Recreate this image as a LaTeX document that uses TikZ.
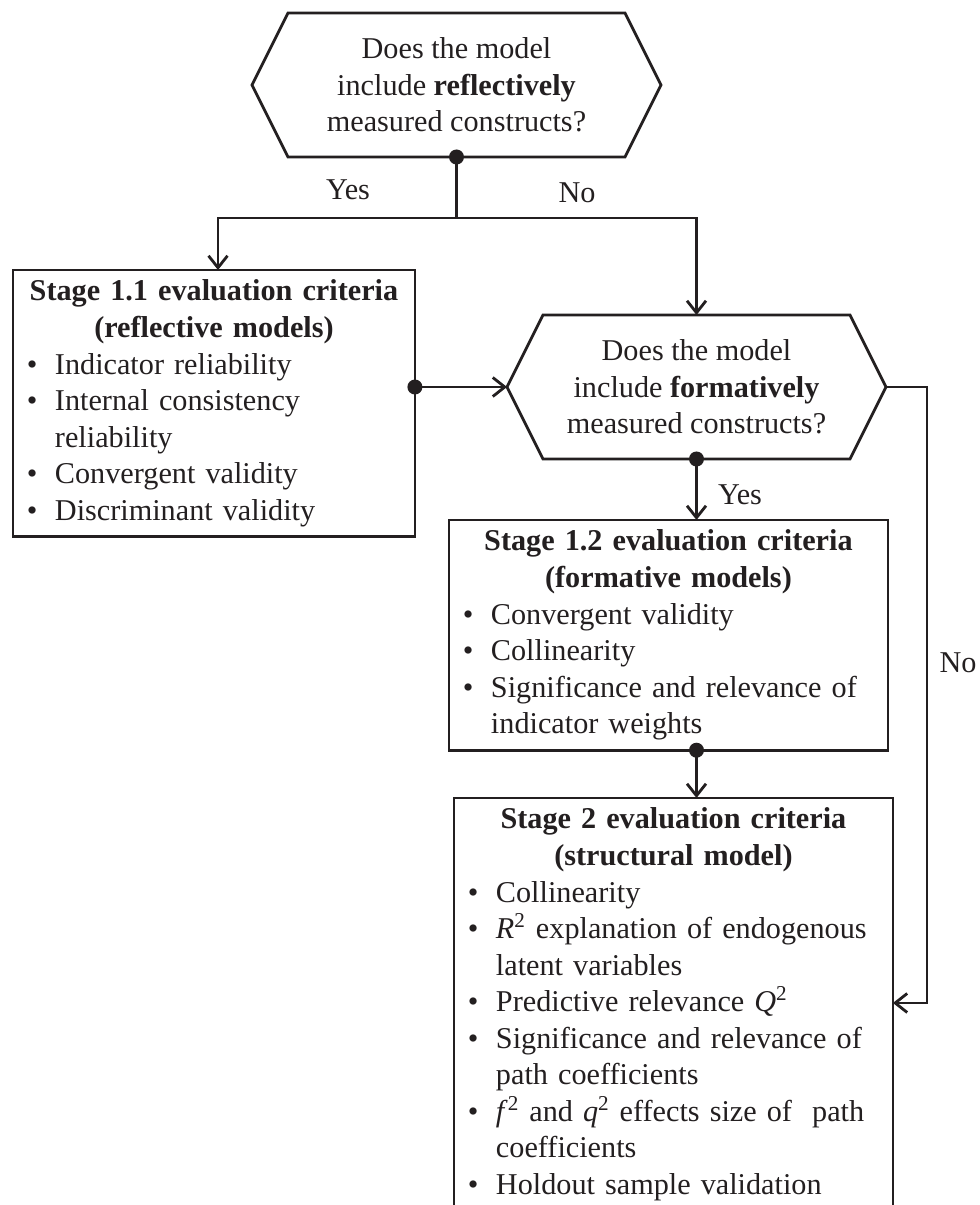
\documentclass[tikz,border=0pt]{standalone}
\usepackage{fontspec}
\setmainfont{Liberation Serif}
\usetikzlibrary{arrows.meta}
\definecolor{ink}{HTML}{231F20}
\newcommand{\crit}[1]{\par\hangindent=0.56cm\hangafter=1\noindent\makebox[0.56cm][l]{\textbullet}#1\par}
\newcommand{\hexa}[1]{\draw (#1.north west) -- (#1.north east) -- ([xshift=0.72cm]#1.east) -- (#1.south east) -- (#1.south west) -- ([xshift=-0.72cm]#1.west) -- cycle;}

\begin{document}
\begin{tikzpicture}[x=0.02cm,y=-0.02cm,>={Straight Barb[length=2.4mm,width=3.8mm]},
  line width=1.6pt,ink,
  every node/.style={font=\fontsize{17.2}{20.8}\selectfont,text=ink},
  hex node/.style={align=center,minimum height=2.88cm,inner sep=0pt,outer sep=0pt},
  crit node/.style={rectangle,draw=ink,align=left,inner xsep=0.28cm,inner ysep=0.2cm,outer sep=0pt,anchor=north west},
  lab node/.style={inner sep=0pt}]

  \useasboundingbox (0,0) rectangle (980,1205);
  \clip (0,0) rectangle (980,1205);

  % questions
  \node[hex node,minimum width=6.74cm] (q1) at (456.5,85) {Does the model\\include \textbf{reflectively}\\measured constructs?};
  \node[hex node,minimum width=6.14cm] (q2) at (696.5,387) {Does the model\\include \textbf{formatively}\\measured constructs?};
  \hexa{q1}
  \hexa{q2}

  % criteria
  \node[crit node,text width=7.48cm,minimum height=5.3cm] (s11) at (13,270) {%
    {\centering\bfseries Stage 1.1 evaluation criteria\\(reflective models)\par}
    \crit{Indicator reliability}
    \crit{Internal consistency\newline reliability}
    \crit{Convergent validity}
    \crit{Discriminant validity}};
  \node[crit node,text width=8.22cm,minimum height=4.54cm] (s12) at (449,520) {%
    {\centering\bfseries Stage 1.2 evaluation criteria\\(formative models)\par}
    \crit{Convergent validity}
    \crit{Collinearity}
    \crit{Significance and relevance of\newline indicator weights}};
  \node[crit node,text width=8.22cm] (s2) at (454,798) {%
    {\centering\bfseries Stage 2 evaluation criteria\\(structural model)\par}
    \crit{Collinearity}
    \crit{\textit{R}\textsuperscript{2} explanation of endogenous\newline latent variables}
    \crit{Predictive relevance \textit{Q}\textsuperscript{2}}
    \crit{Significance and relevance of\newline path coefficients}
    \crit{\textit{f}\textsuperscript{2} and \textit{q}\textsuperscript{2} effects size of~ path\newline coefficients}
    \crit{Holdout sample validation}};

  % labels
  \node[lab node] (yes1) at (348,190) {Yes};
  \node[lab node] (no1) at (577,193) {No};
  \node[lab node] (yes2) at (740,495) {Yes};
  \node[lab node] (no2) at (958,663) {No};

  \coordinate (split) at (456.5,218);
  \coordinate (s11 in) at (218,270);
  \coordinate (s11 out) at (s11.east |- q2.west);
  \coordinate (q2 tip w) at ([xshift=-0.72cm]q2.west);
  \coordinate (q2 tip e) at ([xshift=0.72cm]q2.east);
  \coordinate (s12 out) at (s12.south -| q2.south);
  \coordinate (s2 in) at ([yshift=-4.1cm]s2.north east);

  \fill (q1.south) circle (0.15cm);
  \draw (q1.south) -- (split);
  \draw[->] (split) -| (s11 in);
  \draw[->] (split) -| (q2.north);
  \fill (s11 out) circle (0.15cm);
  \draw[->] (s11 out) -- (q2 tip w);
  \fill (q2.south) circle (0.15cm);
  \draw[->] (q2.south) -- (s12.north -| q2.south);
  \fill (s12 out) circle (0.15cm);
  \draw[->] (s12 out) -- (s2.north -| s12 out);
  \draw[->] (q2 tip e) -- ++(41,0) |- (s2 in);
\end{tikzpicture}
\end{document}
